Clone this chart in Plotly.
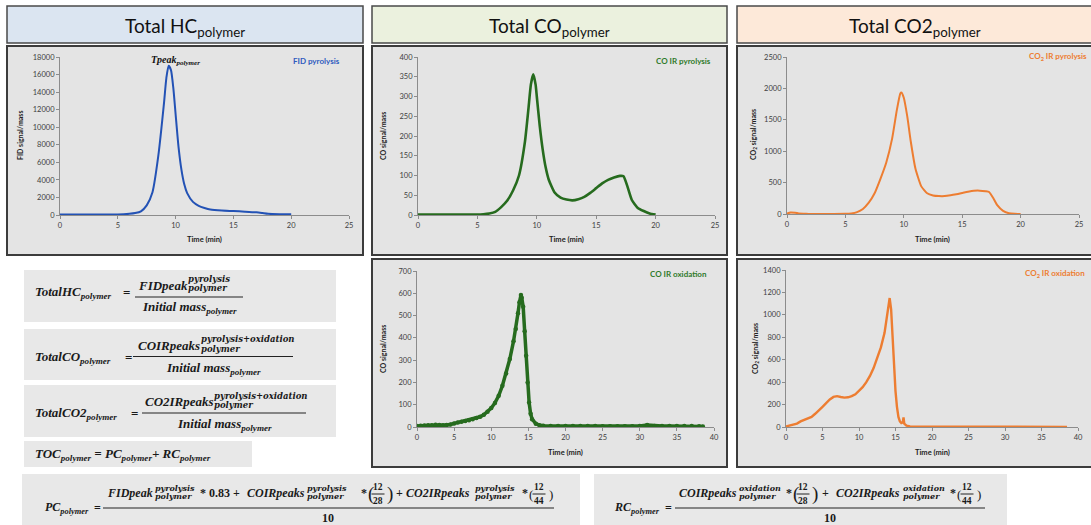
import plotly.graph_objects as go

W, H = 1091, 525

# ---------------- data ----------------
hc_time = [0, 1, 2, 3, 4, 5, 5.5, 6, 6.5, 7, 7.5, 8, 8.5, 9, 9.2, 9.4, 9.6, 9.8, 10, 10.25,
           10.5, 10.75, 11, 11.5, 12, 12.5, 13, 14, 15, 16, 17, 17.5, 18, 19, 20]
hc_signal = [50, 50, 50, 50, 50, 60, 80, 130, 220, 420, 1100, 2600, 6700, 12800, 15600, 17000,
             16500, 14500, 11500, 7800, 5200, 3500, 2500, 1500, 1050, 800, 620, 500, 450, 380,
             300, 220, 130, 90, 80]

co_pyro_time = [0, 1, 2, 3, 4, 5, 5.5, 6, 6.5, 7, 7.5, 8, 8.5, 9, 9.3, 9.5, 9.7, 9.9, 10, 10.25,
                10.5, 10.75, 11, 11.5, 12, 12.5, 13, 13.5, 14, 14.5, 15, 15.5, 16, 16.5, 17,
                17.3, 17.6, 18, 18.5, 19, 19.5, 20]
co_pyro_signal = [1, 1, 1, 1, 1, 1, 2, 4, 8, 20, 36, 62, 100, 185, 270, 330, 356, 330, 300, 225,
                  165, 120, 90, 57, 44, 39, 37, 40, 46, 56, 68, 80, 89, 95, 99, 98, 75, 38, 18,
                  10, 4, 1]

co2_pyro_time = [0, 0.3, 0.7, 1, 1.5, 2, 3, 4, 5, 5.5, 6, 6.5, 7, 7.5, 8, 8.5, 9, 9.4, 9.7, 9.8,
                 10, 10.3, 10.6, 11, 11.5, 12, 12.5, 13, 13.5, 14, 14.5, 15, 15.5, 16, 16.5, 17,
                 17.3, 17.7, 18, 18.5, 19, 19.5, 20]
co2_pyro_signal = [5, 25, 20, 10, 5, 0, 0, 0, 2, 8, 30, 80, 180, 330, 560, 820, 1200, 1650, 1920,
                   1935, 1850, 1550, 1150, 720, 440, 330, 295, 285, 285, 298, 315, 335, 355, 370,
                   372, 362, 350, 240, 140, 50, 12, 2, 0]

co_ox_time = [0, 0.5, 1, 1.5, 2, 2.5, 3, 3.5, 4, 4.5, 5, 5.5, 6, 6.5, 7, 7.5, 8, 8.5, 9, 9.5, 10,
              10.5, 11, 11.5, 12, 12.5, 13, 13.3, 13.6, 13.8, 14, 14.1, 14.3, 14.5, 14.7, 14.9,
              15.1, 15.3, 15.5, 16, 16.5, 17, 18, 19, 20, 21, 22, 23, 24, 25, 26, 27, 28, 29,
              30, 31, 32, 33, 34, 35, 36, 37, 38, 38.5]
co_ox_signal = [5, 6, 7, 8, 8, 10, 9, 8, 9, 11, 16, 20, 24, 27, 30, 35, 40, 46, 55, 68, 85, 108,
                140, 185, 240, 305, 385, 440, 510, 560, 592, 580, 540, 430, 320, 200, 110, 60,
                35, 15, 8, 6, 5, 4, 5, 4, 4, 4, 4, 3, 3, 3, 3, 3, 5, 9, 5, 4, 5, 4, 5, 4, 3, 2]

co2_ox_time = [0, 0.5, 1, 1.5, 2, 2.5, 3, 3.5, 4, 4.5, 5, 5.5, 6, 6.5, 7, 7.5, 8, 8.5, 9, 9.5,
               10, 10.5, 11, 11.5, 12, 12.5, 13, 13.5, 13.8, 14, 14.2, 14.4, 14.6, 14.8, 15,
               15.2, 15.4, 15.6, 15.8, 16, 16.1, 16.2, 16.5, 17, 18, 19, 20, 22, 24, 26, 28,
               30, 32, 34, 36, 38.5]
co2_ox_signal = [5, 15, 22, 30, 50, 62, 72, 90, 118, 145, 180, 212, 245, 268, 275, 268, 262,
                 265, 275, 292, 320, 355, 400, 455, 525, 610, 710, 840, 960, 1080, 1150, 1050,
                 800, 550, 320, 180, 90, 50, 35, 40, 85, 30, 12, 6, 5, 4, 3, 3, 3, 2, 2, 2, 2,
                 2, 2, 1]

BLUE = '#2352b5'
GREEN = '#266b1e'
ORANGE = '#ed7d31'
SANS = 'Lato'
SERIF = 'Liberation Serif'
SCRIPT = 'DejaVu Serif'


def px(x):
    return x / W


def py(y):
    return 1 - y / H


fig = go.Figure()
fig.add_trace(go.Scatter(x=hc_time, y=hc_signal, mode='lines',
                         line=dict(color=BLUE, width=2, shape='spline', smoothing=0.6),
                         xaxis='x', yaxis='y'))
fig.add_trace(go.Scatter(x=co_pyro_time, y=co_pyro_signal, mode='lines',
                         line=dict(color=GREEN, width=2.6, shape='spline', smoothing=0.5),
                         xaxis='x2', yaxis='y2'))
fig.add_trace(go.Scatter(x=co2_pyro_time, y=co2_pyro_signal, mode='lines',
                         line=dict(color=ORANGE, width=2, shape='spline', smoothing=0.5),
                         xaxis='x3', yaxis='y3'))
fig.add_trace(go.Scatter(x=co_ox_time, y=co_ox_signal, mode='lines+markers',
                         line=dict(color=GREEN, width=3.5),
                         marker=dict(color=GREEN, size=4.5),
                         xaxis='x4', yaxis='y4'))
fig.add_trace(go.Scatter(x=co2_ox_time, y=co2_ox_signal, mode='lines',
                         line=dict(color=ORANGE, width=2.4),
                         xaxis='x5', yaxis='y5'))


def axis_common(rng, dtick, anchor):
    return dict(range=rng, dtick=dtick, tick0=0, anchor=anchor, automargin=False,
                showline=True, linecolor='#8c8c8c', linewidth=1, ticks='outside', ticklen=3,
                tickcolor='#8c8c8c', showgrid=False, zeroline=False, fixedrange=True,
                tickformat='d',
                tickfont=dict(family=SANS, size=7.5, color='#404040'))


def xax(x0, x1, rng, dtick, anchor):
    d = axis_common(rng, dtick, anchor)
    d['domain'] = [px(x0), px(x1)]
    return d


def yax(y_top, y_bot, rng, dtick, anchor):
    d = axis_common(rng, dtick, anchor)
    d['domain'] = [py(y_bot), py(y_top)]
    return d


shapes = []
ann = []


def rect(x0, y0, x1, y1, fill, line=None, lw=0):
    shapes.append(dict(type='rect', xref='paper', yref='paper', x0=px(x0), x1=px(x1),
                       y0=py(y1), y1=py(y0), fillcolor=fill, layer='below',
                       line=dict(color=line or fill, width=lw)))


def hline(x0, x1, y, w=1.0, color='#222222'):
    shapes.append(dict(type='line', xref='paper', yref='paper', x0=px(x0), x1=px(x1),
                       y0=py(y), y1=py(y), line=dict(color=color, width=w), layer='above'))


def t(x, y, s, size, anchor='left', font=SERIF, color='#1a1a1a', bold=True, italic=True,
      angle=0):
    if italic:
        s = f'<i>{s}</i>'
    if bold:
        s = f'<b>{s}</b>'
    ann.append(dict(x=px(x), y=py(y), xref='paper', yref='paper', text=s, showarrow=False,
                    xanchor=anchor, yanchor='middle', textangle=angle,
                    font=dict(family=font, size=size, color=color)))


def scripts(x, y_sup, y_sub, sup, sub, size):
    t(x, y_sup, sup, size, font=SCRIPT)
    t(x, y_sub, sub, size, font=SCRIPT)


# headers
rect(7, 6, 363, 43, '#dbe5f1', '#4a4a4a', 1.5)
rect(372, 6, 727, 43, '#ebf1de', '#4a4a4a', 1.5)
rect(737, 6, 1094, 43, '#fde9d9', '#4a4a4a', 1.5)
t(185, 27, 'Total HC<sub>polymer</sub>', 19, 'center', SANS, '#111111', False, False)
t(549, 27, 'Total CO<sub>polymer</sub>', 19, 'center', SANS, '#111111', False, False)
t(915, 27, 'Total CO2<sub>polymer</sub>', 19, 'center', SANS, '#111111', False, False)

# chart panels
CHART_BG = '#e4e4e4'
rect(7, 46, 363, 255, CHART_BG, '#3c3c3c', 2)
rect(372, 46, 727, 255, CHART_BG, '#3c3c3c', 2)
rect(737, 46, 1094, 255, CHART_BG, '#3c3c3c', 2)
rect(372, 259, 727, 467, CHART_BG, '#3c3c3c', 2)
rect(737, 259, 1094, 467, CHART_BG, '#3c3c3c', 2)

# chart labels
t(342, 61, 'FID pyrolysis', 8, 'right', SANS, '#2e5bbf', True, False)
t(175, 61, 'Tpeak<sub>polymer</sub>', 10, 'center', SERIF, '#111111')
t(713, 61, 'CO IR pyrolysis', 8, 'right', SANS, '#2f7a2a', True, False)
t(1089, 57, 'CO<sub>2</sub> IR pyrolysis', 8, 'right', SANS, ORANGE, True, False)
t(709, 274, 'CO IR oxidation', 8, 'right', SANS, '#2f7a2a', True, False)
t(1087, 273, 'CO<sub>2</sub> IR oxidation', 8, 'right', SANS, ORANGE, True, False)

# axis titles
for cx, cy in [(204, 240), (566, 240), (932, 239), (565, 452), (932, 452)]:
    t(cx, cy, 'Time (min)', 7.5, 'center', SANS, '#222222', True, False)
t(20, 136, 'FID signal/mass', 7, 'center', SANS, '#222222', True, False, -90)
t(383, 136, 'CO signal/mass', 7, 'center', SANS, '#222222', True, False, -90)
t(753, 135, 'CO<sub>2</sub> signal/mass', 7, 'center', SANS, '#222222', True, False, -90)
t(383, 349, 'CO signal/mass', 7, 'center', SANS, '#222222', True, False, -90)
t(755, 349, 'CO<sub>2</sub> signal/mass', 7, 'center', SANS, '#222222', True, False, -90)

# formula boxes
FBOX = '#e8e8e8'
rect(24, 270, 336, 322, FBOX)
rect(24, 329, 336, 380, FBOX)
rect(24, 385, 336, 437, FBOX)
rect(24, 441, 252, 467, FBOX)
rect(22, 474, 580, 526, FBOX)
rect(594, 474, 1007, 526, FBOX)

M, S = 13, 8.5
# TotalHC
t(33, 292, 'TotalHC<sub>polymer</sub>', M)
t(126, 292, '=', M, 'center', italic=False)
t(136, 285, 'FIDpeak', M)
scripts(186, 279, 288, 'pyrolysis', 'polymer', S)
hline(135, 243, 297)
t(189, 307, 'Initial mass<sub>polymer</sub>', M, 'center')
# TotalCO
t(33, 357, 'TotalCO<sub>polymer</sub>', M)
t(128, 357, '=', M, 'center', italic=False)
t(136, 345, 'COIRpeaks', M)
scripts(199, 339, 348.5, 'pyrolysis+oxidation', 'polymer', S)
hline(133, 293, 356.5)
t(213, 368, 'Initial mass<sub>polymer</sub>', M, 'center')
# TotalCO2
t(33, 413, 'TotalCO2<sub>polymer</sub>', M)
t(134, 413, '=', M, 'center', italic=False)
t(143, 401.5, 'CO2IRpeaks', M)
scripts(212, 395.5, 405, 'pyrolysis+oxidation', 'polymer', S)
hline(142, 306, 413)
t(224, 424, 'Initial mass<sub>polymer</sub>', M, 'center')
# TOC
t(33, 454, 'TOC<sub>polymer</sub> = PC<sub>polymer</sub>+ RC<sub>polymer</sub>', M)

# PC
m, s = 12, 8
YN, YSUP, YSUB = 492.5, 488, 496
t(91, 508, 'PC<sub>polymer</sub>', m, 'right')
t(97, 508, '=', m, 'center', italic=False)
hline(103, 554, 508)
t(105, YN, 'FIDpeak', m)
scripts(153, YSUP, YSUB, 'pyrolysis', 'polymer', s)
t(198, YN, '* 0.83 +', m, italic=False)
t(245, YN, 'COIRpeaks', m)
scripts(305, YSUP, YSUB, 'pyrolysis', 'polymer', s)
t(359, YN, '*', m, italic=False)


def small_frac(xl, num, den, xr_paren, big=True):
    t(xl, 494, '(', 19 if big else 13, 'left', bold=False, italic=False)
    cx = xl + 12
    t(cx, 487, num, 9.5, 'center', italic=False)
    t(cx, 500.5, den, 9.5, 'center', italic=False)
    hline(cx - 6.5, cx + 6.5, 494, 1)
    t(xr_paren, 494, ')', 19 if big else 13, 'left', bold=False, italic=False)


small_frac(366, '12', '28', 385)
t(394, YN, '+', m, italic=False)
t(404, YN, 'CO2IRpeaks', m)
scripts(473, YSUP, YSUB, 'pyrolysis', 'polymer', s)
t(520, YN, '*', m, italic=False)
small_frac(527, '12', '44', 547, big=False)
t(328, 518, '10', m, 'center', italic=False)

# RC
t(662, 508, 'RC<sub>polymer</sub>', m, 'right')
t(668, 508, '=', m, 'center', italic=False)
hline(675, 985, 508)
t(677, YN, 'COIRpeaks', m)
scripts(737, YSUP, YSUB, 'oxidation', 'polymer', s)
t(784, YN, '*', m, italic=False)
small_frac(791, '12', '28', 810)
t(820, YN, '+', m, italic=False)
t(834, YN, 'CO2IRpeaks', m)
scripts(901, YSUP, YSUB, 'oxidation', 'polymer', s)
t(948, YN, '*', m, italic=False)
small_frac(955, '12', '44', 975, big=False)
t(830, 518, '10', m, 'center', italic=False)

fig.update_layout(
    width=W, height=H, autosize=False,
    margin=dict(l=0, r=0, t=0, b=0, pad=0),
    paper_bgcolor='white', plot_bgcolor='rgba(0,0,0,0)',
    showlegend=False,
    xaxis=xax(60, 349, [0, 25], 5, 'y'),
    yaxis=yax(57, 215, [0, 18000], 2000, 'x'),
    xaxis2=xax(418, 715, [0, 25], 5, 'y2'),
    yaxis2=yax(57, 215, [0, 400], 50, 'x2'),
    xaxis3=xax(787, 1079, [0, 25], 5, 'y3'),
    yaxis3=yax(57, 214, [0, 2500], 500, 'x3'),
    xaxis4=xax(417, 714, [0, 40], 5, 'y4'),
    yaxis4=yax(271, 427, [0, 700], 100, 'x4'),
    xaxis5=xax(786, 1078, [0, 40], 5, 'y5'),
    yaxis5=yax(270, 427, [0, 1400], 200, 'x5'),
    shapes=shapes,
    annotations=ann,
)

fig.write_html('out.html', config={'displayModeBar': False},
               post_script="document.body.style.margin='0';document.body.style.overflow='hidden';")
